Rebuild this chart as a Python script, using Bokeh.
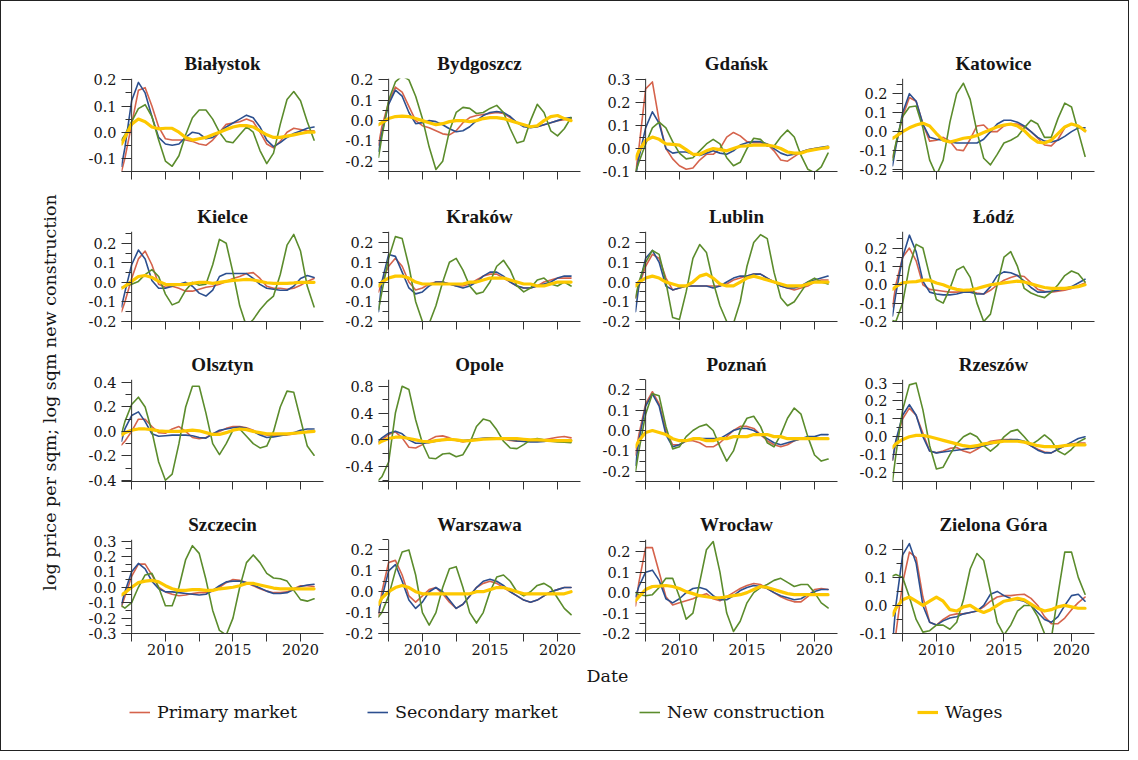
from bokeh.plotting import figure
from bokeh.models import Range1d, FixedTicker, PrintfTickFormatter, Label, Legend, LegendItem, Span, LinearAxis, Spacer
from bokeh.layouts import row, column
from bokeh.embed import file_html
from bokeh.resources import INLINE
import math

# ---------------- data ----------------
years = [2006.75, 2007.0, 2007.5, 2008.0, 2008.5, 2009.0, 2009.5, 2010.0, 2010.5, 2011.0, 2011.5,
         2012.0, 2012.5, 2013.0, 2013.5, 2014.0, 2014.5, 2015.0, 2015.5, 2016.0, 2016.5,
         2017.0, 2017.5, 2018.0, 2018.5, 2019.0, 2019.5, 2020.0, 2020.5, 2021.0]

series_names = ["Primary market", "Secondary market", "New construction", "Wages"]
x_tick_labels = [2010, 2015, 2020]
x_minor_ticks = [2007.5, 2012.5, 2017.5]

bialystok_primary = [-0.15, -0.10, 0.03, 0.16, 0.17, 0.10, 0.02, -0.025, -0.03, -0.03, -0.03, -0.035, -0.045, -0.05, -0.03, 0.0, 0.03, 0.035, 0.04, 0.05, 0.04, 0.0, -0.045, -0.06, -0.035, 0.0, 0.015, 0.01, 0.005, 0.005]
bialystok_secondary = [-0.13, -0.06, 0.12, 0.19, 0.15, 0.06, -0.02, -0.045, -0.05, -0.045, -0.02, 0.0, -0.005, -0.025, -0.02, 0.0, 0.02, 0.035, 0.05, 0.065, 0.055, 0.02, -0.03, -0.055, -0.04, -0.02, -0.005, 0.005, 0.015, 0.02]
bialystok_new = [-0.03, -0.01, 0.04, 0.09, 0.105, 0.06, -0.03, -0.11, -0.13, -0.09, -0.01, 0.055, 0.085, 0.085, 0.05, 0.0, -0.035, -0.04, -0.01, 0.02, 0.0, -0.07, -0.12, -0.08, 0.03, 0.125, 0.155, 0.12, 0.04, -0.03]
bialystok_wages = [-0.045, -0.02, 0.03, 0.05, 0.04, 0.02, 0.013, 0.015, 0.015, 0.0, -0.02, -0.03, -0.025, -0.02, -0.01, 0.0, 0.01, 0.02, 0.025, 0.025, 0.02, 0.005, -0.01, -0.02, -0.02, -0.015, -0.01, -0.005, 0.0, 0.0]

bydgoszcz_primary = [-0.12, -0.03, 0.09, 0.165, 0.14, 0.07, 0.0, -0.025, -0.035, -0.05, -0.065, -0.07, -0.05, -0.01, 0.015, 0.025, 0.03, 0.035, 0.04, 0.035, 0.015, -0.01, -0.02, -0.03, -0.03, -0.02, -0.01, 0.0, 0.005, 0.01]
bydgoszcz_secondary = [-0.15, -0.06, 0.08, 0.15, 0.12, 0.04, -0.015, -0.01, 0.0, -0.005, -0.02, -0.04, -0.055, -0.05, -0.03, 0.0, 0.025, 0.04, 0.045, 0.04, 0.02, -0.01, -0.03, -0.035, -0.03, -0.02, -0.01, 0.0, 0.01, 0.015]
bydgoszcz_new = [-0.18, -0.08, 0.10, 0.19, 0.22, 0.20, 0.12, 0.01, -0.13, -0.24, -0.20, -0.05, 0.04, 0.065, 0.06, 0.035, 0.04, 0.06, 0.075, 0.04, -0.04, -0.11, -0.10, 0.0, 0.08, 0.04, -0.05, -0.075, -0.04, 0.015]
bydgoszcz_wages = [-0.02, -0.01, 0.01, 0.02, 0.022, 0.02, 0.01, 0.0, -0.01, -0.02, -0.015, -0.005, 0.0, 0.0, -0.005, 0.0, 0.01, 0.015, 0.015, 0.01, 0.0, -0.01, -0.02, -0.03, -0.025, 0.0, 0.02, 0.025, 0.01, 0.0]

gdansk_primary = [-0.11, 0.0, 0.26, 0.29, 0.12, 0.0, -0.045, -0.075, -0.09, -0.085, -0.05, -0.025, -0.025, 0.0, 0.05, 0.07, 0.055, 0.03, 0.025, 0.025, 0.02, -0.01, -0.05, -0.055, -0.035, -0.015, -0.005, 0.0, 0.0, 0.0]
gdansk_secondary = [-0.125, -0.04, 0.09, 0.16, 0.11, 0.0, -0.02, -0.015, -0.015, -0.025, -0.03, -0.02, -0.01, -0.02, -0.025, -0.01, 0.015, 0.025, 0.03, 0.03, 0.02, 0.0, -0.02, -0.03, -0.025, -0.015, -0.005, 0.0, 0.005, 0.01]
gdansk_new = [-0.1, -0.06, 0.02, 0.09, 0.115, 0.09, 0.03, -0.02, -0.045, -0.04, -0.01, 0.02, 0.04, 0.02, -0.04, -0.075, -0.06, 0.0, 0.045, 0.04, 0.01, 0.01, 0.05, 0.08, 0.05, -0.03, -0.09, -0.105, -0.08, -0.02]
gdansk_wages = [-0.045, -0.01, 0.035, 0.05, 0.04, 0.02, 0.018, 0.015, -0.005, -0.025, -0.025, -0.01, 0.0, -0.005, -0.01, 0.0, 0.01, 0.012, 0.015, 0.015, 0.015, 0.01, 0.0, -0.015, -0.02, -0.02, -0.01, -0.005, 0.0, 0.005]

katowice_primary = [-0.135, -0.07, 0.08, 0.18, 0.16, 0.04, -0.05, -0.045, -0.03, -0.05, -0.095, -0.1, -0.04, 0.03, 0.035, 0.0, 0.0, 0.03, 0.04, 0.04, 0.025, 0.0, -0.035, -0.07, -0.075, -0.04, 0.02, 0.04, 0.03, 0.0]
katowice_secondary = [-0.18, -0.08, 0.10, 0.20, 0.16, 0.04, -0.03, -0.04, -0.045, -0.055, -0.06, -0.06, -0.06, -0.06, -0.04, 0.0, 0.04, 0.06, 0.06, 0.05, 0.03, 0.0, -0.03, -0.05, -0.055, -0.045, -0.025, 0.0, 0.02, 0.02]
katowice_new = [-0.15, -0.06, 0.08, 0.13, 0.135, 0.02, -0.15, -0.23, -0.15, 0.05, 0.2, 0.255, 0.17, 0.0, -0.14, -0.175, -0.12, -0.06, -0.045, -0.025, 0.02, 0.06, 0.04, -0.03, -0.03, 0.07, 0.15, 0.13, 0.0, -0.13]
katowice_wages = [-0.035, -0.025, 0.0, 0.02, 0.035, 0.045, 0.03, -0.01, -0.045, -0.055, -0.045, -0.035, -0.03, -0.02, -0.005, 0.01, 0.025, 0.035, 0.04, 0.03, 0.005, -0.03, -0.055, -0.06, -0.045, -0.01, 0.025, 0.04, 0.03, 0.005]

kielce_primary = [-0.15, -0.1, 0.02, 0.12, 0.16, 0.09, -0.01, -0.025, -0.02, -0.03, -0.045, -0.045, -0.035, -0.025, -0.02, -0.01, 0.005, 0.02, 0.03, 0.045, 0.05, 0.02, -0.02, -0.03, -0.03, -0.035, -0.03, -0.015, 0.005, 0.02]
kielce_secondary = [-0.125, -0.05, 0.09, 0.165, 0.12, 0.01, -0.03, -0.03, -0.02, -0.01, 0.0, -0.02, -0.055, -0.07, -0.04, 0.03, 0.045, 0.045, 0.045, 0.045, 0.02, -0.01, -0.03, -0.035, -0.04, -0.04, -0.02, 0.02, 0.035, 0.025]
kielce_new = [-0.025, -0.02, -0.01, 0.005, 0.04, 0.065, 0.03, -0.06, -0.115, -0.1, -0.04, 0.0, -0.015, -0.01, 0.09, 0.22, 0.2, 0.05, -0.12, -0.225, -0.19, -0.14, -0.1, -0.07, 0.04, 0.19, 0.245, 0.16, -0.02, -0.125]
kielce_wages = [-0.03, -0.02, 0.005, 0.03, 0.035, 0.025, 0.005, -0.01, -0.012, -0.012, -0.01, -0.005, 0.0, 0.0, -0.005, 0.0, 0.005, 0.01, 0.012, 0.015, 0.012, 0.005, -0.002, -0.005, -0.005, -0.005, -0.003, 0.0, 0.0, 0.0]

krakow_primary = [-0.05, 0.0, 0.08, 0.12, 0.08, 0.0, -0.04, -0.03, -0.01, 0.0, 0.0, -0.01, -0.02, -0.02, -0.01, 0.01, 0.03, 0.04, 0.04, 0.02, 0.0, -0.02, -0.03, -0.03, -0.02, 0.0, 0.01, 0.02, 0.02, 0.02]
krakow_secondary = [-0.15, 0.0, 0.14, 0.13, 0.05, -0.03, -0.06, -0.05, -0.02, 0.0, 0.0, -0.01, -0.02, -0.03, -0.02, 0.0, 0.03, 0.05, 0.05, 0.03, 0.0, -0.02, -0.03, -0.03, -0.02, -0.01, 0.0, 0.02, 0.03, 0.03]
krakow_new = [-0.14, -0.05, 0.12, 0.23, 0.22, 0.08, -0.1, -0.2, -0.21, -0.12, 0.0, 0.1, 0.12, 0.06, -0.02, -0.06, -0.05, 0.0, 0.08, 0.11, 0.06, -0.02, -0.05, -0.03, 0.01, 0.02, -0.01, -0.02, 0.0, -0.02]
krakow_wages = [-0.02, 0.0, 0.02, 0.03, 0.03, 0.02, 0.0, -0.01, -0.01, -0.01, -0.01, -0.01, -0.01, -0.01, 0.0, 0.0, 0.01, 0.02, 0.02, 0.02, 0.01, 0.0, -0.01, -0.01, -0.02, -0.02, -0.01, 0.0, 0.0, 0.0]

lublin_primary = [-0.08, -0.02, 0.08, 0.14, 0.12, 0.02, -0.04, -0.03, -0.02, -0.02, -0.02, -0.02, -0.02, -0.02, -0.01, 0.01, 0.02, 0.03, 0.04, 0.04, 0.02, 0.0, -0.02, -0.03, -0.04, -0.03, -0.02, 0.0, 0.01, 0.01]
lublin_secondary = [-0.15, -0.02, 0.12, 0.16, 0.1, -0.02, -0.04, -0.03, -0.02, -0.02, -0.02, -0.02, -0.03, -0.02, 0.0, 0.02, 0.03, 0.03, 0.04, 0.04, 0.02, 0.0, -0.02, -0.03, -0.03, -0.02, 0.0, 0.01, 0.02, 0.03]
lublin_new = [-0.08, 0.0, 0.1, 0.16, 0.14, 0.0, -0.18, -0.19, -0.05, 0.12, 0.19, 0.15, 0.0, -0.12, -0.2, -0.21, -0.1, 0.08, 0.2, 0.24, 0.22, 0.05, -0.08, -0.12, -0.1, -0.05, 0.0, 0.02, 0.0, -0.01]
lublin_wages = [-0.02, 0.0, 0.02, 0.03, 0.02, 0.0, -0.01, -0.02, -0.02, 0.0, 0.03, 0.04, 0.02, -0.01, -0.02, -0.02, 0.0, 0.02, 0.03, 0.02, 0.01, 0.0, -0.01, -0.02, -0.02, -0.02, -0.01, 0.0, 0.0, 0.0]

lodz_primary = [-0.12, 0.0, 0.15, 0.2, 0.13, 0.0, -0.025, -0.03, -0.035, -0.04, -0.04, -0.035, -0.035, -0.045, -0.05, -0.03, 0.0, 0.025, 0.04, 0.05, 0.045, 0.01, -0.025, -0.035, -0.04, -0.035, -0.03, -0.02, -0.005, 0.01]
lodz_secondary = [-0.17, -0.05, 0.15, 0.27, 0.18, 0.02, -0.04, -0.05, -0.055, -0.055, -0.05, -0.04, -0.04, -0.05, -0.05, -0.01, 0.05, 0.07, 0.065, 0.05, 0.02, -0.015, -0.04, -0.04, -0.035, -0.03, -0.02, -0.01, 0.01, 0.03]
lodz_new = [-0.195, -0.2, -0.1, 0.1, 0.22, 0.2, 0.05, -0.08, -0.1, -0.02, 0.08, 0.1, 0.04, -0.1, -0.2, -0.16, 0.0, 0.15, 0.18, 0.1, -0.02, -0.045, -0.06, -0.07, -0.04, 0.0, 0.05, 0.075, 0.06, 0.015]
lodz_wages = [-0.025, -0.01, 0.01, 0.015, 0.017, 0.025, 0.025, 0.01, 0.0, -0.015, -0.025, -0.03, -0.028, -0.02, -0.01, 0.0, 0.005, 0.01, 0.015, 0.02, 0.015, 0.005, -0.005, -0.015, -0.02, -0.02, -0.02, -0.015, -0.01, 0.0]

olsztyn_primary = [-0.11, -0.08, 0.0, 0.1, 0.1, 0.04, -0.01, -0.015, 0.02, 0.04, 0.0, -0.05, -0.06, -0.05, -0.02, 0.0, 0.025, 0.04, 0.04, 0.03, 0.01, -0.02, -0.03, -0.035, -0.03, -0.03, -0.02, -0.01, 0.0, 0.0]
olsztyn_secondary = [-0.08, 0.02, 0.13, 0.16, 0.08, -0.02, -0.04, -0.035, -0.03, -0.03, -0.03, -0.035, -0.05, -0.055, -0.02, 0.01, 0.02, 0.03, 0.035, 0.025, 0.0, -0.03, -0.05, -0.045, -0.035, -0.025, -0.01, 0.01, 0.02, 0.02]
olsztyn_new = [-0.02, 0.08, 0.22, 0.28, 0.2, 0.0, -0.25, -0.4, -0.35, -0.1, 0.2, 0.37, 0.37, 0.15, -0.1, -0.19, -0.1, 0.01, 0.02, -0.04, -0.1, -0.135, -0.12, 0.0, 0.2, 0.33, 0.32, 0.1, -0.12, -0.195]
olsztyn_wages = [-0.03, -0.01, 0.01, 0.02, 0.02, 0.015, 0.005, 0.0, 0.0, 0.0, 0.005, 0.01, 0.005, -0.01, -0.025, -0.025, -0.01, 0.01, 0.02, 0.015, 0.0, -0.01, -0.02, -0.02, -0.02, -0.02, -0.015, -0.01, -0.005, 0.0]

opole_primary = [-0.04, 0.0, 0.08, 0.12, 0.03, -0.11, -0.12, -0.07, 0.0, 0.05, 0.06, 0.03, -0.01, -0.03, -0.01, 0.01, 0.02, 0.025, 0.02, 0.01, -0.01, -0.02, -0.02, -0.01, 0.0, 0.0, 0.02, 0.04, 0.05, 0.03]
opole_secondary = [-0.02, 0.03, 0.1, 0.13, 0.09, 0.0, -0.05, -0.05, -0.04, -0.02, 0.0, 0.005, 0.0, -0.01, 0.0, 0.015, 0.025, 0.03, 0.03, 0.02, 0.0, -0.015, -0.025, -0.03, -0.03, -0.025, -0.01, 0.0, 0.0, 0.0]
opole_new = [-0.6, -0.55, -0.33, 0.4, 0.8, 0.75, 0.3, -0.05, -0.27, -0.28, -0.21, -0.2, -0.25, -0.22, -0.05, 0.2, 0.31, 0.28, 0.15, -0.02, -0.12, -0.13, -0.07, 0.0, 0.02, 0.0, -0.02, -0.03, -0.035, -0.04]
opole_wages = [-0.05, -0.02, 0.02, 0.04, 0.04, 0.02, 0.0, -0.02, -0.03, -0.01, 0.0, 0.01, 0.0, -0.015, -0.01, 0.0, 0.01, 0.015, 0.02, 0.02, 0.02, 0.02, 0.01, 0.0, 0.0, -0.005, -0.01, -0.01, -0.01, -0.01]

poznan_primary = [-0.12, -0.02, 0.13, 0.19, 0.13, 0.0, -0.07, -0.07, -0.05, -0.05, -0.06, -0.08, -0.08, -0.06, -0.03, 0.0, 0.02, 0.02, 0.01, -0.02, -0.05, -0.07, -0.08, -0.07, -0.05, -0.04, -0.04, -0.04, -0.04, -0.04]
poznan_secondary = [-0.17, -0.05, 0.12, 0.18, 0.12, -0.02, -0.08, -0.07, -0.05, -0.04, -0.04, -0.04, -0.04, -0.04, -0.02, 0.0, 0.01, 0.01, 0.0, -0.02, -0.04, -0.06, -0.07, -0.06, -0.05, -0.04, -0.03, -0.03, -0.02, -0.02]
poznan_new = [-0.2, -0.1, 0.08, 0.18, 0.17, 0.02, -0.09, -0.08, -0.03, 0.0, 0.02, 0.03, 0.0, -0.08, -0.15, -0.1, 0.0, 0.06, 0.07, 0.02, -0.06, -0.08, -0.02, 0.06, 0.11, 0.08, -0.03, -0.12, -0.15, -0.14]
poznan_wages = [-0.08, -0.05, -0.01, 0.0, -0.01, -0.02, -0.04, -0.05, -0.05, -0.04, -0.04, -0.05, -0.05, -0.04, -0.04, -0.03, -0.03, -0.03, -0.02, -0.02, -0.02, -0.03, -0.03, -0.04, -0.04, -0.04, -0.04, -0.04, -0.04, -0.04]

rzeszow_primary = [-0.13, -0.03, 0.10, 0.16, 0.12, 0.02, -0.08, -0.09, -0.08, -0.065, -0.06, -0.08, -0.09, -0.07, -0.045, -0.025, -0.02, -0.015, -0.015, -0.02, -0.03, -0.05, -0.07, -0.085, -0.09, -0.07, -0.05, -0.04, -0.035, -0.035]
rzeszow_secondary = [-0.13, -0.02, 0.12, 0.18, 0.12, 0.0, -0.08, -0.09, -0.085, -0.08, -0.075, -0.07, -0.065, -0.06, -0.05, -0.04, -0.03, -0.02, -0.015, -0.015, -0.025, -0.05, -0.075, -0.09, -0.09, -0.07, -0.05, -0.03, -0.01, 0.0]
rzeszow_new = [-0.25, -0.1, 0.15, 0.29, 0.3, 0.15, -0.05, -0.18, -0.17, -0.1, -0.04, 0.0, 0.02, 0.0, -0.05, -0.08, -0.05, 0.0, 0.03, 0.04, 0.0, -0.045, -0.02, 0.01, -0.02, -0.08, -0.1, -0.07, -0.03, -0.01]
rzeszow_wages = [-0.06, -0.04, -0.015, 0.0, 0.008, 0.008, 0.0, -0.01, -0.02, -0.03, -0.04, -0.05, -0.055, -0.05, -0.04, -0.035, -0.03, -0.025, -0.025, -0.025, -0.03, -0.04, -0.05, -0.055, -0.055, -0.055, -0.05, -0.045, -0.045, -0.045]

szczecin_primary = [-0.125, -0.06, 0.07, 0.15, 0.15, 0.08, 0.0, -0.03, -0.045, -0.055, -0.05, -0.04, -0.035, -0.035, -0.025, 0.0, 0.03, 0.05, 0.045, 0.03, 0.01, -0.01, -0.025, -0.035, -0.035, -0.03, -0.01, 0.01, 0.01, 0.005]
szczecin_secondary = [-0.11, -0.03, 0.1, 0.155, 0.12, 0.04, -0.01, -0.03, -0.03, -0.035, -0.04, -0.045, -0.05, -0.045, -0.02, 0.01, 0.035, 0.04, 0.04, 0.03, 0.015, -0.005, -0.025, -0.04, -0.04, -0.035, -0.015, 0.005, 0.015, 0.02]
szczecin_new = [-0.12, -0.135, -0.1, 0.0, 0.08, 0.09, 0.0, -0.12, -0.12, 0.0, 0.18, 0.27, 0.22, 0.05, -0.15, -0.28, -0.31, -0.2, 0.0, 0.16, 0.21, 0.16, 0.09, 0.06, 0.055, 0.04, -0.02, -0.08, -0.09, -0.075]
szczecin_wages = [-0.05, -0.035, 0.0, 0.03, 0.04, 0.045, 0.035, 0.01, -0.01, -0.02, -0.02, -0.015, -0.015, -0.02, -0.02, -0.01, -0.005, 0.0, 0.01, 0.025, 0.025, 0.015, 0.005, -0.005, -0.01, -0.01, -0.01, -0.01, -0.01, -0.01]

warszawa_primary = [-0.12, 0.0, 0.14, 0.15, 0.08, -0.02, -0.05, -0.02, 0.01, 0.02, -0.01, -0.05, -0.08, -0.06, -0.02, 0.02, 0.04, 0.05, 0.04, 0.02, 0.0, -0.02, -0.04, -0.05, -0.04, -0.02, 0.0, 0.01, 0.02, 0.02]
warszawa_secondary = [-0.1, -0.03, 0.1, 0.13, 0.05, -0.04, -0.08, -0.05, 0.0, 0.02, 0.0, -0.04, -0.08, -0.06, -0.02, 0.02, 0.05, 0.06, 0.05, 0.03, 0.0, -0.02, -0.04, -0.05, -0.04, -0.02, 0.0, 0.01, 0.02, 0.02]
warszawa_new = [-0.12, -0.1, -0.02, 0.1, 0.19, 0.2, 0.08, -0.1, -0.16, -0.1, 0.02, 0.11, 0.12, 0.02, -0.1, -0.15, -0.1, 0.0, 0.07, 0.08, 0.05, 0.0, -0.02, 0.0, 0.03, 0.04, 0.02, -0.03, -0.08, -0.11]
warszawa_wages = [-0.06, -0.03, 0.0, 0.02, 0.03, 0.02, 0.0, -0.01, -0.01, -0.01, -0.01, -0.01, -0.01, -0.01, -0.01, 0.0, 0.0, 0.01, 0.02, 0.02, 0.01, 0.0, -0.01, -0.01, -0.01, -0.01, -0.01, -0.01, -0.01, 0.0]

wroclaw_primary = [-0.065, 0.05, 0.22, 0.22, 0.1, -0.02, -0.06, -0.05, -0.04, -0.03, -0.015, -0.005, -0.03, -0.04, -0.02, 0.0, 0.02, 0.035, 0.045, 0.04, 0.02, 0.0, -0.02, -0.035, -0.045, -0.045, -0.02, 0.015, 0.02, 0.015]
wroclaw_secondary = [-0.02, 0.03, 0.1, 0.11, 0.06, -0.03, -0.05, -0.03, 0.0, 0.02, 0.025, 0.015, -0.015, -0.035, -0.035, -0.015, 0.01, 0.025, 0.035, 0.03, 0.02, 0.0, -0.015, -0.025, -0.035, -0.03, -0.01, 0.005, 0.015, 0.015]
wroclaw_new = [0.0, -0.01, -0.015, -0.01, 0.025, 0.07, 0.07, -0.02, -0.13, -0.1, 0.05, 0.21, 0.25, 0.1, -0.1, -0.19, -0.14, -0.05, 0.0, 0.025, 0.04, 0.06, 0.07, 0.05, 0.03, 0.04, 0.04, 0.0, -0.05, -0.075]
wroclaw_wages = [-0.04, -0.02, 0.015, 0.03, 0.032, 0.035, 0.03, 0.02, 0.005, -0.005, -0.015, -0.02, -0.025, -0.025, -0.02, -0.015, -0.01, 0.0, 0.015, 0.03, 0.025, 0.015, 0.005, -0.005, -0.01, -0.01, -0.01, -0.01, -0.01, -0.01]

zielona_primary = [-0.16, -0.1, 0.08, 0.19, 0.17, 0.03, -0.06, -0.07, -0.05, -0.035, -0.03, -0.03, -0.025, -0.02, -0.005, 0.015, 0.03, 0.035, 0.035, 0.038, 0.04, 0.025, 0.0, -0.04, -0.065, -0.065, -0.045, -0.015, 0.01, 0.03]
zielona_secondary = [-0.135, 0.0, 0.18, 0.22, 0.15, 0.0, -0.06, -0.07, -0.055, -0.045, -0.04, -0.03, -0.025, -0.02, 0.0, 0.04, 0.05, 0.035, 0.025, 0.02, 0.015, 0.0, -0.025, -0.05, -0.06, -0.04, 0.0, 0.035, 0.04, 0.015]
zielona_new = [0.105, 0.11, 0.1, 0.03, -0.05, -0.095, -0.09, -0.07, -0.07, -0.085, -0.06, 0.02, 0.13, 0.185, 0.16, 0.05, -0.06, -0.105, -0.07, -0.02, 0.0, 0.0, -0.04, -0.1, -0.12, 0.04, 0.19, 0.19, 0.1, 0.04]
zielona_wages = [-0.035, -0.01, 0.02, 0.03, 0.015, 0.0, 0.015, 0.03, 0.015, -0.015, -0.02, -0.005, 0.0, -0.015, -0.025, -0.015, 0.0, 0.015, 0.02, 0.025, 0.02, 0.005, -0.01, -0.02, -0.015, -0.005, 0.0, -0.005, -0.01, -0.01]

# y tick labels of each panel
bialystok_yticks = [-0.1, 0.0, 0.1, 0.2]
bydgoszcz_yticks = [-0.2, -0.1, 0.0, 0.1, 0.2]
gdansk_yticks = [-0.1, 0.0, 0.1, 0.2, 0.3]
katowice_yticks = [-0.2, -0.1, 0.0, 0.1, 0.2]
kielce_yticks = [-0.2, -0.1, 0.0, 0.1, 0.2]
krakow_yticks = [-0.2, -0.1, 0.0, 0.1, 0.2]
lublin_yticks = [-0.2, -0.1, 0.0, 0.1, 0.2]
lodz_yticks = [-0.2, -0.1, 0.0, 0.1, 0.2]
olsztyn_yticks = [-0.4, -0.2, 0.0, 0.2, 0.4]
opole_yticks = [-0.4, 0.0, 0.4, 0.8]
poznan_yticks = [-0.2, -0.1, 0.0, 0.1, 0.2]
rzeszow_yticks = [-0.2, -0.1, 0.0, 0.1, 0.2, 0.3]
szczecin_yticks = [-0.3, -0.2, -0.1, 0.0, 0.1, 0.2, 0.3]
warszawa_yticks = [-0.2, -0.1, 0.0, 0.1, 0.2]
wroclaw_yticks = [-0.2, -0.1, 0.0, 0.1, 0.2]
zielona_yticks = [-0.1, 0.0, 0.1, 0.2]

panels = [
    ("Białystok", bialystok_primary, bialystok_secondary, bialystok_new, bialystok_wages, bialystok_yticks),
    ("Bydgoszcz", bydgoszcz_primary, bydgoszcz_secondary, bydgoszcz_new, bydgoszcz_wages, bydgoszcz_yticks),
    ("Gdańsk", gdansk_primary, gdansk_secondary, gdansk_new, gdansk_wages, gdansk_yticks),
    ("Katowice", katowice_primary, katowice_secondary, katowice_new, katowice_wages, katowice_yticks),
    ("Kielce", kielce_primary, kielce_secondary, kielce_new, kielce_wages, kielce_yticks),
    ("Kraków", krakow_primary, krakow_secondary, krakow_new, krakow_wages, krakow_yticks),
    ("Lublin", lublin_primary, lublin_secondary, lublin_new, lublin_wages, lublin_yticks),
    ("Łódź", lodz_primary, lodz_secondary, lodz_new, lodz_wages, lodz_yticks),
    ("Olsztyn", olsztyn_primary, olsztyn_secondary, olsztyn_new, olsztyn_wages, olsztyn_yticks),
    ("Opole", opole_primary, opole_secondary, opole_new, opole_wages, opole_yticks),
    ("Poznań", poznan_primary, poznan_secondary, poznan_new, poznan_wages, poznan_yticks),
    ("Rzeszów", rzeszow_primary, rzeszow_secondary, rzeszow_new, rzeszow_wages, rzeszow_yticks),
    ("Szczecin", szczecin_primary, szczecin_secondary, szczecin_new, szczecin_wages, szczecin_yticks),
    ("Warszawa", warszawa_primary, warszawa_secondary, warszawa_new, warszawa_wages, warszawa_yticks),
    ("Wrocław", wroclaw_primary, wroclaw_secondary, wroclaw_new, wroclaw_wages, wroclaw_yticks),
    ("Zielona Góra", zielona_primary, zielona_secondary, zielona_new, zielona_wages, zielona_yticks),
]

# ---------------- styling / layout ----------------
FONT = "DejaVu Serif"
TITLE_FONT = "Liberation Serif"
TXT = "#151515"
AX = "#333333"
COLORS = ["#d5634c", "#2c4f8f", "#5b8c2c", "#fdc800"]
WIDTHS = [1.6, 1.6, 1.6, 3.2]

Y_LIMITS = {
    "Białystok": (-0.15, 0.205), "Bydgoszcz": (-0.25, 0.207), "Gdańsk": (-0.1, 0.305), "Katowice": (-0.21, 0.28),
    "Kielce": (-0.2, 0.26), "Kraków": (-0.2, 0.256), "Lublin": (-0.2, 0.256), "Łódź": (-0.2, 0.29),
    "Olsztyn": (-0.41, 0.425), "Opole": (-0.62, 0.9), "Poznań": (-0.25, 0.25), "Rzeszów": (-0.25, 0.32),
    "Szczecin": (-0.3, 0.31), "Warszawa": (-0.2, 0.25), "Wrocław": (-0.2, 0.26), "Zielona Góra": (-0.1, 0.235),
}
X_LIMITS = (2006.75, 2021.7)
ROW_H = [188, 155, 155, 162]
ROW_BORDER = [(77, 18), (42, 23), (35, 18), (40, 28)]
PANEL_W = 257
MB_LEFT, MB_RIGHT = 43, 12
YLAB_W = 77
TOTAL_W = 1127


def make_panel(idx, name, prim, sec, new, wag, yticks):
    r = idx // 4
    lo, hi = Y_LIMITS[name]
    mbt, mbb = ROW_BORDER[r]
    p = figure(width=PANEL_W, height=ROW_H[r], x_range=Range1d(*X_LIMITS), y_range=Range1d(lo, hi),
               x_axis_type=None, y_axis_type=None, output_backend="svg", toolbar_location=None,
               min_border_left=MB_LEFT, min_border_right=MB_RIGHT, min_border_top=mbt, min_border_bottom=mbb,
               title=name)
    p.outline_line_color = None
    p.background_fill_color = "white"
    p.border_fill_color = "white"
    p.title.align = "center"
    p.title.text_font = TITLE_FONT
    p.title.text_font_style = "bold"
    p.title.text_font_size = "19px"
    p.title.text_color = TXT
    p.title.standoff = 9

    step = yticks[1] - yticks[0]
    minors = [t + step / 2 for t in yticks] + [yticks[0] - step / 2]
    yax = LinearAxis(ticker=FixedTicker(ticks=yticks, minor_ticks=minors),
                     formatter=PrintfTickFormatter(format="%.1f"),
                     axis_line_color=None, major_tick_in=10, major_tick_out=0,
                     minor_tick_in=10, minor_tick_out=-4, major_label_standoff=5,
                     major_tick_line_color=AX, minor_tick_line_color=AX,
                     major_label_text_font=FONT, major_label_text_font_size="14.5px",
                     major_label_text_color=TXT)
    p.add_layout(yax, "left")
    p.add_layout(Span(location=x_minor_ticks[0], dimension="height", line_color=AX, line_width=1))

    if r == 3:
        xt = FixedTicker(ticks=x_tick_labels, minor_ticks=x_minor_ticks)
    else:
        xt = FixedTicker(ticks=[], minor_ticks=sorted(x_minor_ticks + x_tick_labels))
    xax = LinearAxis(ticker=xt, formatter=PrintfTickFormatter(format="%d"),
                     axis_line_color=AX, major_tick_in=0, major_tick_out=8,
                     minor_tick_in=0, minor_tick_out=8, major_label_standoff=2,
                     major_tick_line_color=AX, minor_tick_line_color=AX,
                     major_label_text_font=FONT, major_label_text_font_size="14.5px",
                     major_label_text_color=TXT)
    p.add_layout(xax, "below")

    for vals, c, w in zip([prim, sec, new, wag], COLORS, WIDTHS):
        p.line(years, vals, line_color=c, line_width=w, line_join="round", line_cap="round")
    return p


figs = [make_panel(i, *pan) for i, pan in enumerate(panels)]
grid_rows = [row(*figs[4 * r:4 * r + 4]) for r in range(4)]
grid = column(*grid_rows)
grid_h = sum(ROW_H)

ylab = figure(width=YLAB_W, height=grid_h, x_range=Range1d(0, YLAB_W), y_range=Range1d(grid_h, 0),
              x_axis_type=None, y_axis_type=None, output_backend="svg", toolbar_location=None,
              min_border=0)
ylab.outline_line_color = None
ylab.add_layout(Label(x=48, y=391, text="log price per sqm; log sqm new construction", angle=math.pi / 2,
                      text_align="center", text_baseline="middle", text_font=FONT,
                      text_font_size="17.5px", text_color=TXT))

BOTTOM_H = 89
bottom = figure(width=TOTAL_W, height=BOTTOM_H, x_range=Range1d(0, TOTAL_W), y_range=Range1d(BOTTOM_H, 0),
                x_axis_type=None, y_axis_type=None, output_backend="svg", toolbar_location=None, min_border=0)
bottom.outline_line_color = None
bottom.add_layout(Label(x=606, y=14, text="Date", text_align="center", text_baseline="middle",
                        text_font=FONT, text_font_size="17.5px", text_color=TXT))

legend_x = [128, 366, 638, 916]
for name, c, w, lx in zip(series_names, COLORS, WIDTHS, legend_x):
    rr = bottom.line(x=[-100, -90], y=[-100, -100], line_color=c, line_width=w)
    lg = Legend(items=[LegendItem(label=name, renderers=[rr])], location=(lx, 28), orientation="horizontal",
                padding=0, margin=0, border_line_color=None, background_fill_alpha=0,
                label_text_font=FONT, label_text_font_size="17.5px", label_text_color=TXT,
                glyph_width=21, glyph_height=18, label_standoff=7, label_height=18)
    bottom.add_layout(lg)

top = row(ylab, grid, Spacer(width=TOTAL_W - YLAB_W - 4 * PANEL_W, height=grid_h))
page = column(top, bottom, styles={"border": "1px solid #222222"})

open("out.html", "w").write(file_html(page, INLINE))
